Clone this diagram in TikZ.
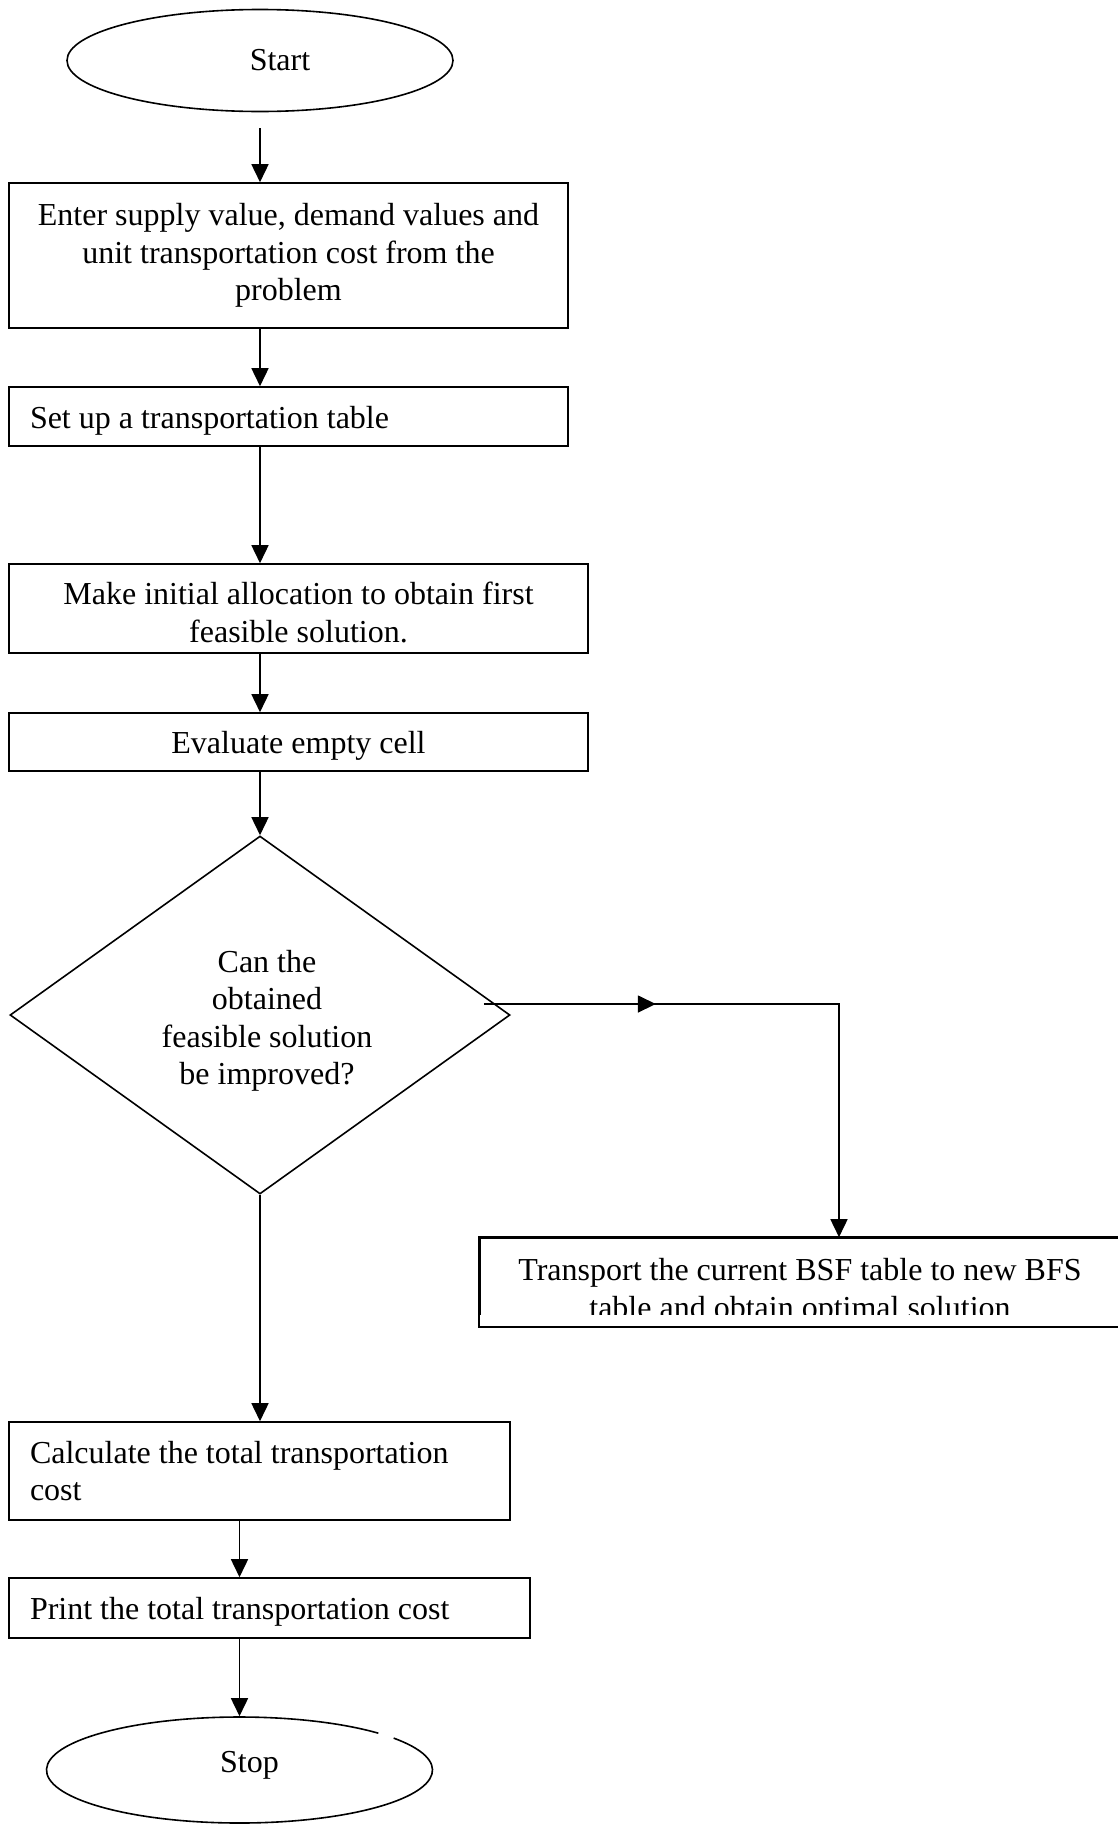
\documentclass[tikz,border=0pt]{standalone}
\usepackage{fontspec}
\setmainfont{Liberation Serif}
\usetikzlibrary{shapes.geometric,arrows.meta,decorations.markings}
\begin{document}
\begin{tikzpicture}[x=1pt,y=-1pt,
  every node/.style={font=\fontsize{32}{37.5}\selectfont, line width=1.6pt},
  ln/.style={line width=1.6pt, draw=black},
  tip/.style={-{Triangle[length=18pt,width=17pt]}},
  boxc/.style={draw, rectangle, align=center, inner xsep=0pt, inner ysep=0pt},
  boxl/.style={draw, rectangle, align=flush left, inner xsep=21pt, inner ysep=0pt},
  term/.style={draw, ellipse, inner sep=0pt},
  midtip/.style={postaction=decorate, decoration={markings,
      mark=at position #1 with {\arrow{Triangle[length=18pt,width=17pt]}}}}
]
\path[use as bounding box, fill=white] (0,0) rectangle (1117,1826);

\node[term, minimum width=386pt, minimum height=102pt] (start) at (260,60.5) {\hspace*{40pt}Start};

\node[boxc, minimum width=559pt, minimum height=145pt] (b1) at (288.5,255.5)
  {Enter supply value, demand values and\\unit transportation cost from the\\problem};

\node[boxl, minimum width=559pt, minimum height=59pt, text width=517pt] (b2) at (288.5,416.5)
  {\rule{0pt}{30pt}Set up a transportation table};

\node[boxc, minimum width=579pt, minimum height=89pt] (b3) at (298.5,608.5)
  {\rule{0pt}{30pt}Make initial allocation to obtain first\\feasible solution.};

\node[boxc, minimum width=579pt, minimum height=58pt] (b4) at (298.5,742)
  {\rule{0pt}{30pt}Evaluate empty cell};

\node[draw, diamond, aspect=1.4, minimum width=500pt, minimum height=358pt, inner sep=0pt, align=center] (dec) at (260,1015)
  {\rule{0pt}{34pt}\hspace*{14pt}Can the\\\hspace*{14pt}obtained\\\hspace*{14pt}feasible solution\\\hspace*{14pt}be improved?};

\begin{scope}
\clip (470,1225) rectangle (1130,1314);
\node[boxc, minimum width=640pt, minimum height=88pt] (b5) at (800,1282)
  {\rule{0pt}{42pt}Transport the current BSF table to new BFS\\table and obtain optimal solution};
\end{scope}
\draw[ln] (b5.north west) rectangle (b5.south east);

\node[boxl, minimum width=501pt, minimum height=98pt, text width=459pt] (b6) at (259.5,1471)
  {Calculate the total transportation\\cost};

\node[boxl, minimum width=521pt, minimum height=60pt, text width=479pt] (b7) at (269.5,1608)
  {\rule{0pt}{30pt}Print the total transportation cost};

\node[ellipse, inner sep=0pt, minimum width=386pt, minimum height=106pt] (stop) at (239.5,1770)
  {\hspace*{20pt}\rule[-17pt]{0pt}{17pt}Stop};
\draw[ln, y=1pt] (stop.center) ++(44:193 and 53) arc[start angle=44, end angle=397, x radius=193, y radius=53];

% connectors
\draw[ln,tip] ([yshift=-16pt]start.south) -- (b1.north -| start.south);
\draw[ln,tip] (b1.south -| start.south) -- (b2.north -| start.south);
\draw[ln,tip] (b2.south -| start.south) -- (b3.north -| start.south);
\draw[ln,tip] (b3.south -| start.south) -- (b4.north -| start.south);
\draw[ln,tip] (b4.south -| start.south) -- (dec.north);
\draw[ln,tip] (dec.south) -- (b6.north -| dec.south);

\coordinate (turn) at (839,1004);
\draw[ln,tip,midtip=172pt] ([xshift=-27pt,yshift=11pt]dec.east) -- (turn) -- (b5.north -| turn);

\draw[ln,tip] (b6.south -| stop.north) -- (b7.north -| stop.north);
\draw[ln,tip] (b7.south -| stop.north) -- (stop.north);
\end{tikzpicture}
\end{document}
